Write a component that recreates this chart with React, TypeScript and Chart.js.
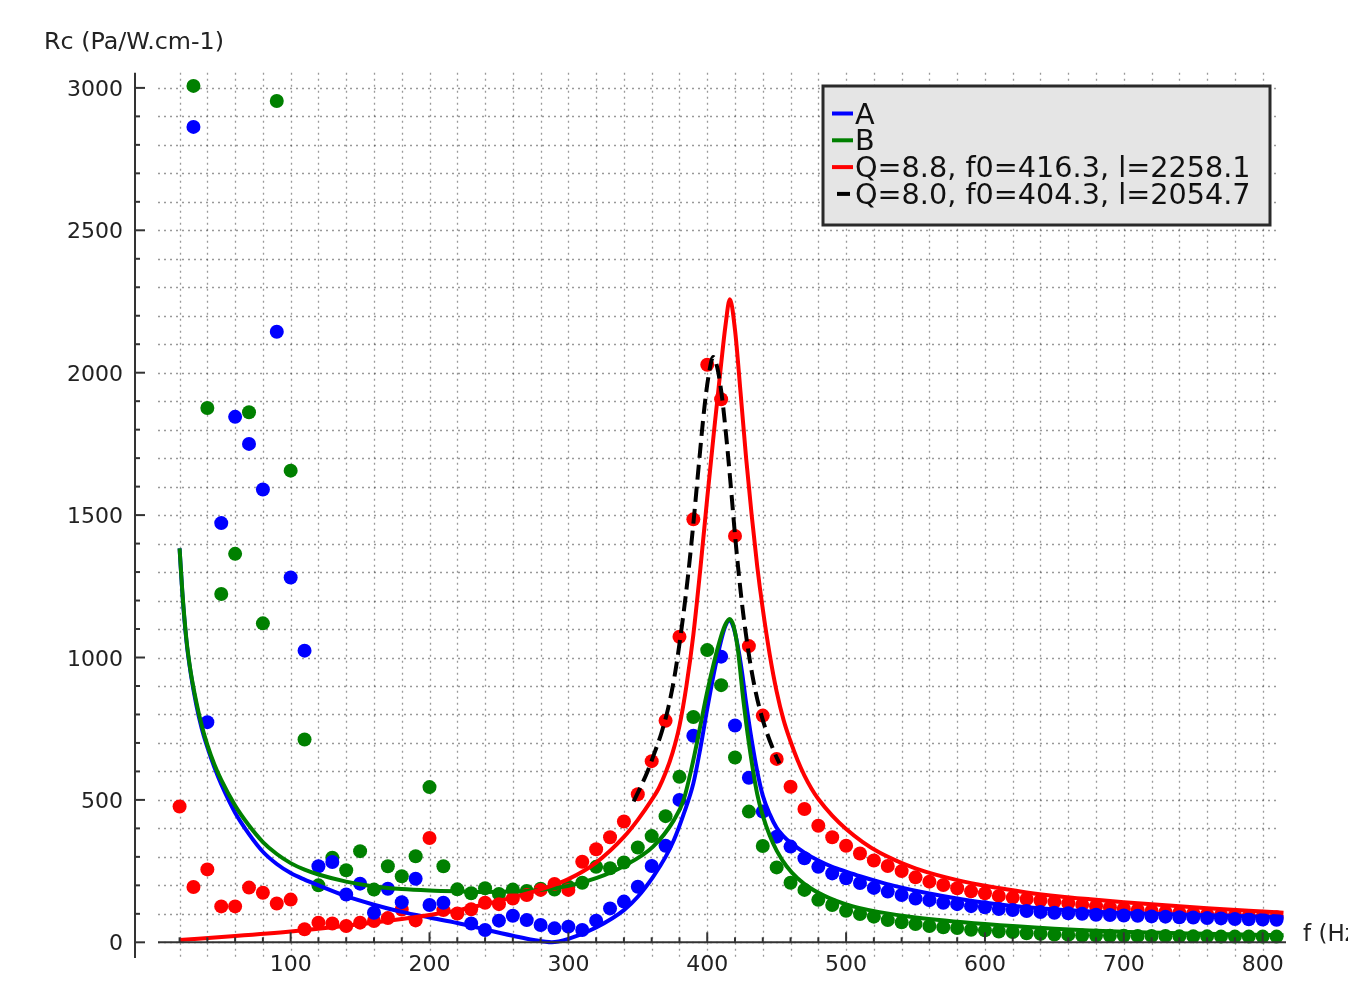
import React, { useEffect, useRef } from 'react';
import { Chart, registerables } from 'chart.js';

Chart.register(...registerables);

// ---- measured frequencies (Hz) ----
const FREQ = [20,30,40,50,60,70,80,90,100,110,120,130,140,150,160,170,180,190,200,210,220,230,240,250,260,270,280,290,300,310,320,330,340,350,360,370,380,390,400,410,420,430,440,450,460,470,480,490,500,510,520,530,540,550,560,570,580,590,600,610,620,630,640,650,660,670,680,690,700,710,720,730,740,750,760,770,780,790,800,810];

// ---- measured Rc, series A (blue) ----
const RC_A = [null,2863,773,1472,1845,1750,1590,2144,1281,1024,267,282,168,206,104,188,141,223,131,139,null,66,43,76,93,78,61,49,55,43,76,119,143,195,268,339,500,725,null,1003,761,578,459,371,336,295,265,242,225,208,191,178,166,154,148,139,134,127,123,117,113,110,106,104,102,100,97,96,94,93,91,90,88,87,85,84,82,81,80,79];

// ---- measured Rc, series B (green) ----
const RC_B = [null,3007,1876,1223,1364,1861,1120,2954,1656,712,200,297,253,320,185,267,232,302,545,267,186,172,190,170,185,180,188,185,195,209,265,260,280,333,373,443,581,791,1026,903,649,459,338,263,209,184,149,131,111,99,90,78,70,64,57,53,50,44,42,38,36,32,30,27,26,24,24,23,23,22,22,22,21,21,21,20,20,20,20,20];

// ---- measured Rc, series C (red) ----
const RC_C = [477,194,256,126,126,192,174,136,150,46,69,66,57,69,75,85,115,77,366,113,101,116,139,134,154,166,184,205,184,283,327,369,424,520,636,778,1073,1485,2028,1907,1427,1040,796,644,546,468,409,369,339,312,287,268,250,228,213,201,190,179,172,163,157,152,147,142,137,132,127,122,118,114,110,107,104,101,98,96,94,92,90,88];

// ---- curve A (blue) ----
const CURVE_A_F = [20,22,25,28,32,36,40,45,50,60,70,80,90,100,110,120,140,160,180,200,220,240,260,275,288,300,320,340,350,361,370,376,383,390,395,400,405,410,413,416,419,422,425,428,432,436,440,445,450,455,460,470,480,490,500,510,524,534,558,582,606,630,654,676,700,750,800,815];
const CURVE_A_RC = [1383,1225,1055,945,835,750,685,615,555,455,380,318,275,243,220,200,162,132,107,87,68,45,23,8,0,12,52,113,160,230,300,359,450,558,680,820,950,1060,1110,1131,1105,1040,950,840,710,600,515,450,402,372,350,315,287,265,248,232,212,199,173,152,135,123,114,108,103,96,90,88];

// ---- curve B (green) ----
const CURVE_B_F = [20,22,25,28,32,36,40,45,50,60,70,80,90,100,110,120,140,160,180,200,220,240,260,280,300,320,340,361,376,383,390,395,400,405,410,413,416,419,422,426,430,436,440,445,450,457,465,475,488,500,510,524,550,600,650,700,750,815];
const CURVE_B_RC = [1383,1230,1060,950,845,760,693,625,570,480,410,352,310,278,255,238,213,196,187,182,179,177,178,184,198,225,268,336,429,500,640,760,880,985,1075,1115,1135,1110,1030,851,700,520,445,375,322,268,225,188,155,133,120,106,87,64,48,37,31,25];

// ---- fit Q=8.8 (red) ----
const CURVE_C_F = [20,60,100,140,180,200,220,240,260,280,300,320,340,350,360,365,370,375,380,385,390,395,400,405,410,413,416.3,420,424,428,432,436,440,445,450,455,460,465,470,475,480,490,500,512,524,536,548,560,572,584,596,608,630,654,676,700,730,760,790,815];
const CURVE_C_RC = [8,22,38,58,82,96,112,134,158,186,222,280,370,430,500,540,595,665,760,900,1080,1310,1560,1800,2030,2160,2258,2150,1930,1700,1500,1320,1170,1010,880,780,705,640,585,540,503,445,398,352,315,287,263,244,228,214,202,192,175,161,151,141,130,120,111,104];

// ---- fit Q=8.0 (black dashed) ----
const CURVE_D_F = [347,352,357,362,367,372,377,382,386,390,394,398,401,404.3,406,408,411,414,417,420,423,426,430,434,438,443,449,452];
const CURVE_D_RC = [495,545,600,665,735,825,950,1120,1280,1470,1680,1880,1990,2055,2040,2000,1900,1760,1600,1430,1280,1150,1010,900,815,735,660,628];

// ---- axes / legend text ----
const X_TICKS = [100,200,300,400,500,600,700,800];
const Y_TICKS = [0,500,1000,1500,2000,2500,3000];
const X_GRID = [20,40,60,80,100,120,140,160,180,200,220,240,260,280,300,320,340,360,380,400,420,440,460,480,500,520,540,560,580,600,620,640,660,680,700,720,740,760,780,800];
const Y_GRID = [0,100,200,300,400,500,600,700,800,900,1000,1100,1200,1300,1400,1500,1600,1700,1800,1900,2000,2100,2200,2300,2400,2500,2600,2700,2800,2900,3000];
const Y_LABEL = 'Rc (Pa/W.cm-1)';
const X_LABEL = 'f (Hz)';
const LEGEND = [
  { label: 'A', color: '#0000ff', dashed: false },
  { label: 'B', color: '#008000', dashed: false },
  { label: 'Q=8.8, f0=416.3, l=2258.1', color: '#ff0000', dashed: false },
  { label: 'Q=8.0, f0=404.3, l=2054.7', color: '#000000', dashed: true },
];

const FONT = '"DejaVu Sans", "Liberation Sans", sans-serif';

function pts(xs: number[], ys: (number | null)[]) {
  const out: { x: number; y: number }[] = [];
  xs.forEach((x, i) => {
    const y = ys[i];
    if (y !== null && y !== undefined) out.push({ x, y });
  });
  return out;
}

const sagePlugin = {
  id: 'sageAxes',
  beforeDatasetsDraw(chart: any) {
    const { ctx, chartArea: a, scales } = chart;
    const xs = scales.x;
    const ys = scales.y;
    ctx.save();
    ctx.strokeStyle = 'rgba(70,70,70,0.55)';
    ctx.lineWidth = 1.3;
    ctx.setLineDash([2, 4]);
    X_GRID.forEach((v) => {
      const px = Math.round(xs.getPixelForValue(v)) + 0.5;
      ctx.beginPath();
      ctx.moveTo(px, a.top);
      ctx.lineTo(px, a.bottom);
      ctx.stroke();
    });
    const gridRight = xs.getPixelForValue(812);
    Y_GRID.forEach((v) => {
      const py = Math.round(ys.getPixelForValue(v)) + 0.5;
      ctx.beginPath();
      ctx.moveTo(a.left, py);
      ctx.lineTo(gridRight, py);
      ctx.stroke();
    });
    ctx.restore();
  },
  afterDatasetsDraw(chart: any) {
    const { ctx, chartArea: a, scales } = chart;
    const xs = scales.x;
    const ys = scales.y;
    ctx.save();
    ctx.setLineDash([]);
    ctx.strokeStyle = '#333333';
    ctx.fillStyle = '#222222';
    ctx.lineWidth = 2;
    const yAxisX = xs.getPixelForValue(-12.1);
    const xAxisY = ys.getPixelForValue(0);
    // y axis
    ctx.beginPath();
    ctx.moveTo(yAxisX, a.top);
    ctx.lineTo(yAxisX, a.bottom);
    ctx.stroke();
    // x axis
    ctx.beginPath();
    ctx.moveTo(a.left, xAxisY);
    ctx.lineTo(a.right, xAxisY);
    ctx.stroke();
    // y ticks
    Y_GRID.forEach((v) => {
      const py = ys.getPixelForValue(v);
      const major = Y_TICKS.includes(v);
      ctx.beginPath();
      ctx.moveTo(yAxisX, py);
      ctx.lineTo(yAxisX + (major ? 10 : 5), py);
      ctx.stroke();
    });
    // x ticks
    X_GRID.forEach((v) => {
      const px = xs.getPixelForValue(v);
      const major = X_TICKS.includes(v);
      ctx.beginPath();
      ctx.moveTo(px, xAxisY);
      ctx.lineTo(px, xAxisY - (major ? 10 : 5));
      ctx.stroke();
    });
    // tick labels
    ctx.font = `22px ${FONT}`;
    ctx.textAlign = 'right';
    ctx.textBaseline = 'alphabetic';
    Y_TICKS.forEach((v) => {
      ctx.fillText(String(v), yAxisX - 12, ys.getPixelForValue(v) + 8);
    });
    ctx.textAlign = 'center';
    X_TICKS.forEach((v) => {
      ctx.fillText(String(v), xs.getPixelForValue(v), xAxisY + 29);
    });
    // axis labels
    ctx.font = `23.8px ${FONT}`;
    ctx.textAlign = 'left';
    ctx.fillText(Y_LABEL, 44, 49);
    ctx.font = `23px ${FONT}`;
    ctx.fillText(X_LABEL, a.right + 17, xAxisY - 1);
    // legend
    const lx = 823, ly = 86, lw = 447, lh = 139;
    ctx.fillStyle = '#e5e5e5';
    ctx.fillRect(lx, ly, lw, lh);
    ctx.strokeStyle = '#2a2a2a';
    ctx.lineWidth = 3;
    ctx.strokeRect(lx, ly, lw, lh);
    ctx.font = `28.7px ${FONT}`;
    LEGEND.forEach((item, i) => {
      const rowY = 113.5 + 26.8 * i;
      ctx.strokeStyle = item.color;
      ctx.lineWidth = 4;
      ctx.beginPath();
      if (item.dashed) {
        ctx.moveTo(837, rowY);
        ctx.lineTo(850, rowY);
      } else {
        ctx.moveTo(832, rowY);
        ctx.lineTo(853, rowY);
      }
      ctx.stroke();
      ctx.fillStyle = '#111111';
      ctx.fillText(item.label, 855, rowY + 10);
    });
    ctx.restore();
  },
};

export default function App() {
  const ref = useRef<HTMLCanvasElement | null>(null);
  useEffect(() => {
    if (!ref.current) return;
    const dot = (data: any, color: string, order: number) => ({
      data,
      showLine: false,
      pointRadius: 7,
      pointBackgroundColor: color,
      pointBorderColor: color,
      pointBorderWidth: 0,
      order,
    });
    const curve = (data: any, color: string, order: number, dash: number[] = []) => ({
      data,
      showLine: true,
      borderColor: color,
      borderWidth: 4,
      borderDash: dash,
      pointRadius: 0,
      cubicInterpolationMode: 'monotone',
      fill: false,
      order,
    });
    const chart = new Chart(ref.current, {
      type: 'scatter',
      data: {
        datasets: [
          dot(pts(FREQ, RC_B), '#008000', 7),
          dot(pts(FREQ, RC_C), '#ff0000', 6),
          dot(pts(FREQ, RC_A), '#0000ff', 5),
          curve(pts(CURVE_A_F, CURVE_A_RC), '#0000ff', 4),
          curve(pts(CURVE_B_F, CURVE_B_RC), '#008000', 3),
          curve(pts(CURVE_C_F, CURVE_C_RC), '#ff0000', 2),
          curve(pts(CURVE_D_F, CURVE_D_RC), '#000000', 1, [15, 7]),
        ] as any,
      },
      options: {
        animation: false,
        responsive: false,
        maintainAspectRatio: false,
        devicePixelRatio: 1,
        events: [],
        layout: { padding: { left: 158, right: 62, top: 72.8, bottom: 30 } },
        scales: {
          x: { type: 'linear', min: 4.46, max: 816.8, display: false },
          y: { type: 'linear', min: -55.1, max: 3053, display: false },
        },
        plugins: {
          legend: { display: false },
          tooltip: { enabled: false },
          title: { display: false },
        },
      } as any,
      plugins: [sagePlugin],
    });
    return () => chart.destroy();
  }, []);
  return (
    <div style={{ position: 'absolute', left: 0, top: 0, width: 1348, height: 988, background: '#ffffff' }}>
      <canvas ref={ref} width={1348} height={988} style={{ display: 'block' }} />
    </div>
  );
}
